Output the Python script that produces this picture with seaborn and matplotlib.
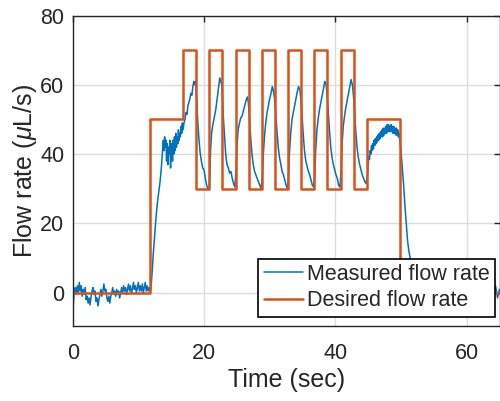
import numpy as np
import pandas as pd
import matplotlib
matplotlib.use("Agg")
import matplotlib.pyplot as plt
import seaborn as sns

# ---- data ----
desired_time = [0, 11.7, 16.8, 18.8, 20.8, 22.8, 24.8, 26.8, 28.8, 30.8, 32.8,
                34.8, 36.8, 38.8, 40.8, 42.8, 44.8, 49.8, 65]
desired_rate = [0, 50, 70, 30, 70, 30, 70, 30, 70, 30, 70,
                30, 70, 30, 70, 30, 50, 0, 0]

# baseline 0 - 11.8 s
base_time = [0.0, 0.1, 0.25, 0.4, 0.55, 0.7, 0.85, 1.0, 1.15, 1.3, 1.45, 1.6, 1.75, 1.9,
             2.05, 2.2, 2.35, 2.5, 2.65, 2.8, 2.95, 3.1, 3.25, 3.4, 3.55, 3.7, 3.85, 4.0,
             4.15, 4.3, 4.45, 4.6, 4.75, 4.9, 5.05, 5.2, 5.35, 5.5, 5.65, 5.8, 5.95, 6.1,
             6.25, 6.4, 6.55, 6.7, 6.85, 7.0, 7.15, 7.3, 7.45, 7.6, 7.75, 7.9, 8.05, 8.2,
             8.35, 8.5, 8.65, 8.8, 8.95, 9.1, 9.25, 9.4, 9.55, 9.7, 9.85, 10.0, 10.15,
             10.3, 10.45, 10.6, 10.75, 10.9, 11.05, 11.2, 11.35, 11.5, 11.65, 11.8]
base_rate = [-7, -3, 0.5, 1.5, -0.5, 2, 0, 3, 0.5, 2, -1, 1, -0.5, 1.5,
             -2, -1, -3, -1.5, -3.5, -1, 0.5, 1.5, -0.5, 0.5, -2.5, -1.5, -3.8, -2,
             -0.5, 1, -1, 0.5, 2.5, 0.5, 1, -1.5, -2.5, -1, -3, -1, 0, 1.5,
             -0.5, 0.5, -1, 1, -0.5, 0.5, -1.5, 0, 1.5, 0, 2, 0.5, 1.5, -0.5,
             1, 2.5, 0.5, 2, 0, 1, 3, 1, 2, 0, 1.5, 3, 0.5,
             2, 0.5, 2.5, 0, 1.5, 3, 0.5, 2, 0.5, 1.5, 0.5]

# first step to 50 and noisy plateau
rise_time = [11.9, 12.1, 12.3, 12.5, 12.7, 12.9, 13.1, 13.3, 13.5, 13.65, 13.8, 13.9,
             14.0, 14.1, 14.2, 14.3, 14.4, 14.5, 14.6, 14.7, 14.8, 14.9, 15.0, 15.1,
             15.2, 15.3, 15.4, 15.5, 15.6, 15.7, 15.8, 15.9, 16.0, 16.1, 16.2, 16.3,
             16.4, 16.5, 16.6, 16.7, 16.8]
rise_rate = [1, 6, 12, 17, 22, 26, 29, 32, 36, 40, 44, 41,
             45, 42, 44, 38, 43, 37, 42, 40, 44, 36, 41, 43,
             38, 44, 40, 45, 41, 46, 42, 45, 43, 47, 44, 46,
             45, 48, 46, 49, 47]

# square-wave section
pulse_time = [16.95, 17.1, 17.25, 17.4, 17.55, 17.7, 17.85, 18.0, 18.15, 18.3, 18.45, 18.6, 18.7,
              18.9, 19.0, 19.2, 19.4, 19.6, 19.8, 20.0, 20.2, 20.4, 20.6, 20.8,
              20.9, 21.0, 21.15, 21.3, 21.5, 21.65, 21.8, 22.0, 22.2, 22.4, 22.55, 22.7, 22.8,
              22.9, 23.1, 23.3, 23.5, 23.7, 23.9, 24.1, 24.3, 24.5, 24.7,
              24.9, 25.0, 25.2, 25.4, 25.6, 25.8, 26.0, 26.2, 26.4, 26.6, 26.75,
              26.9, 27.1, 27.3, 27.5, 27.7, 27.9, 28.1, 28.3, 28.5, 28.7,
              28.9, 29.0, 29.2, 29.4, 29.6, 29.8, 30.0, 30.2, 30.4, 30.6, 30.75,
              30.9, 31.1, 31.3, 31.5, 31.7, 31.9, 32.1, 32.3, 32.5, 32.7,
              32.9, 33.0, 33.2, 33.4, 33.6, 33.8, 34.0, 34.2, 34.4, 34.6, 34.75,
              34.9, 35.1, 35.3, 35.5, 35.7, 35.9, 36.1, 36.3, 36.5, 36.7,
              36.9, 37.0, 37.2, 37.4, 37.6, 37.8, 38.0, 38.2, 38.4, 38.6, 38.75,
              38.9, 39.1, 39.3, 39.5, 39.7, 39.9, 40.1, 40.3, 40.5, 40.7,
              40.9, 41.0, 41.2, 41.4, 41.6, 41.8, 42.0, 42.2, 42.4, 42.6, 42.75,
              42.9, 43.1, 43.3, 43.5, 43.7, 43.9, 44.1, 44.3, 44.5, 44.7]
pulse_rate = [49, 50, 52, 51.5, 54, 55, 56, 57.5, 57, 59.5, 61, 60, 61,
              55, 51, 45, 40.5, 38, 36, 35.5, 33, 31, 30, 30.5,
              35, 41, 46, 48, 50, 51.5, 53, 56, 59, 62, 61, 60, 57,
              52, 46, 40, 37, 36, 34.5, 35, 33, 31.5, 30.5,
              36, 42, 47, 49, 50.5, 51, 52.5, 54, 55.5, 56.5, 55,
              51, 45, 40, 37, 35, 34, 33, 32, 31, 30,
              34, 39, 45, 49, 52, 54, 56, 57.5, 59.5, 58, 56,
              52, 47, 42, 39, 37, 35, 34, 32.5, 31, 30,
              35, 40, 46, 50, 52, 54, 56, 58, 59.5, 58.5, 56,
              52, 46, 41, 38, 36.5, 35, 34, 32.5, 31, 30.5,
              35, 41, 47, 50.5, 53, 55, 57, 59, 61, 60, 57,
              53, 47, 42, 39, 37, 35.5, 34, 33, 31, 30.5,
              36, 42, 48, 51, 53.5, 55.5, 57.5, 59.5, 61.5, 60, 57,
              53, 47, 42, 39, 37, 35.5, 34, 33, 32, 31.5]

# final 50 plateau, drop and tail
tail_time = [44.9, 45.0, 45.1, 45.2, 45.3, 45.4, 45.5, 45.6, 45.7, 45.8, 45.9, 46.0,
             46.1, 46.2, 46.3, 46.4, 46.5, 46.6, 46.7, 46.8, 46.9, 47.0, 47.1, 47.2,
             47.3, 47.4, 47.5, 47.6, 47.7, 47.8, 47.9, 48.0, 48.1, 48.2, 48.3, 48.4,
             48.5, 48.6, 48.7, 48.8, 48.9, 49.0, 49.1, 49.2, 49.3, 49.4, 49.5, 49.6,
             49.7, 49.8, 50.0, 50.2, 50.4, 50.6, 50.8, 51.0, 51.2, 51.4, 51.6, 51.8,
             52.0, 52.5, 53.0, 54.0, 55.0, 56.0, 57.0, 58.0, 59.0, 60.0, 61.0, 62.0,
             63.0, 63.8, 64.1, 64.4, 64.7, 65.0]
tail_rate = [34, 37, 39.5, 38.5, 41, 40, 42.5, 41, 43, 41.5, 44, 42.5,
             44.5, 43, 45, 43.5, 45.5, 44, 46, 44.5, 46.5, 45, 47, 45,
             47.5, 45.5, 47.5, 46, 48, 46, 48.5, 46.5, 48.5, 46.5, 48, 46.5,
             48.5, 46.5, 48, 46, 48, 46, 47.5, 45.5, 47.5, 45.5, 47, 45,
             46, 44, 41, 36, 31, 25, 20, 15, 12, 10, 8, 6,
             5, 3, 1.5, 2, 0.5, 1, 0, 1, 0.5, 0, 1, 0.5,
             0, 1.5, -1, 2, -1.5, 1]

measured_time = base_time + rise_time + pulse_time + tail_time
measured_rate = base_rate + rise_rate + pulse_rate + tail_rate

x_ticks = [0, 20, 40, 60]
y_ticks = [0, 20, 40, 60, 80]

measured = pd.DataFrame({"Time": measured_time, "Rate": measured_rate})
desired = pd.DataFrame({"Time": desired_time, "Rate": desired_rate})

# ---- style ----
sns.set_style("white")
plt.rcParams["font.family"] = ["Liberation Sans", "DejaVu Sans"]
plt.rcParams["mathtext.fontset"] = "custom"
plt.rcParams["mathtext.it"] = "Liberation Sans:italic"
plt.rcParams["mathtext.rm"] = "Liberation Sans"

BLUE = "#0072BD"
ORANGE = "#D95319"
TXT = "#262626"

fig = plt.figure(figsize=(5.0, 4.01), dpi=100)
ax = fig.add_axes([0.1454, 0.187, 0.8536, 0.7743])

sns.lineplot(data=measured, x="Time", y="Rate", ax=ax, color=BLUE, lw=1.1,
             sort=False, estimator=None, label="Measured flow rate")
sns.lineplot(data=desired, x="Time", y="Rate", ax=ax, color=ORANGE, lw=1.8,
             sort=False, estimator=None, drawstyle="steps-post",
             label="Desired flow rate")

ax.set_xlim(0, 65)
ax.set_ylim(-9.6, 80)
ax.set_xticks(x_ticks)
ax.set_yticks(y_ticks)
ax.grid(True, color="#dcdcdc", lw=1.0)
ax.set_axisbelow(True)

for s in ax.spines.values():
    s.set_color(TXT)
    s.set_linewidth(1.0)
    s.set_visible(True)

ax.tick_params(axis="both", which="both", direction="in", length=4, width=1.0,
               color=TXT, top=True, right=True, labelsize=15.5,
               labelcolor=TXT)
ax.tick_params(axis="x", pad=12)
ax.tick_params(axis="y", pad=6)

ax.set_xlabel("Time (sec)", fontsize=18, color=TXT, labelpad=3)
ax.set_ylabel(r"Flow rate ($\mu$L/s)", fontsize=18, color=TXT, labelpad=1)

leg = ax.legend(loc="lower right", bbox_to_anchor=(0.9895, 0.030), borderaxespad=0,
                fontsize=15.5, frameon=True, fancybox=False, framealpha=1,
                edgecolor="black", handlelength=1.8, handletextpad=0.2,
                borderpad=0.25, labelspacing=0.25)
leg.get_frame().set_linewidth(1.2)

fig.savefig("out.png", dpi=100)
